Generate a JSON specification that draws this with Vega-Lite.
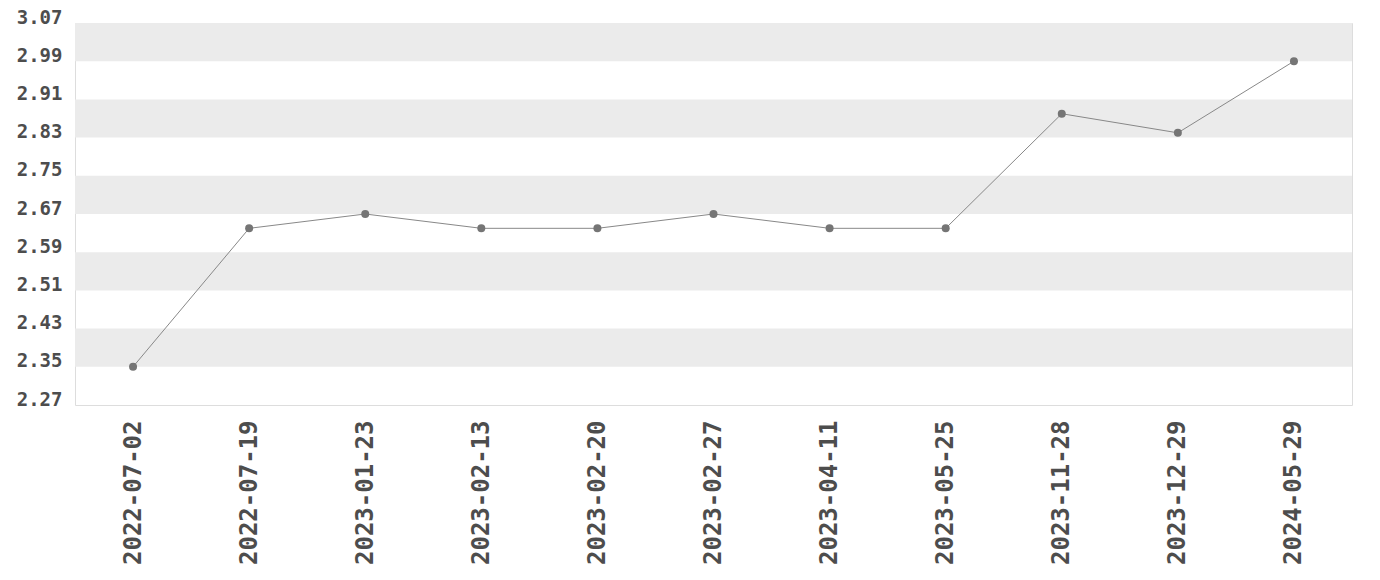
{
  "$schema": "https://vega.github.io/schema/vega-lite/v6.json",
  "width": 1277,
  "height": 382,
  "autosize": {"type": "none"},
  "padding": {"left": 75, "top": 23, "right": 28, "bottom": 175},
  "background": "white",
  "config": {
    "view": {"stroke": "#dddddd", "strokeWidth": 1},
    "axis": {"labelFont": "DejaVu Sans Mono", "labelFontWeight": "bold", "labelFontSize": 19, "labelColor": "#4d4d4d", "ticks": false, "domain": false, "grid": false, "title": null, "labelOverlap": false}
  },
  "datasets": {
    "series": [
      {"date": "2022-07-02", "value": 2.35},
      {"date": "2022-07-19", "value": 2.64},
      {"date": "2023-01-23", "value": 2.67},
      {"date": "2023-02-13", "value": 2.64},
      {"date": "2023-02-20", "value": 2.64},
      {"date": "2023-02-27", "value": 2.67},
      {"date": "2023-04-11", "value": 2.64},
      {"date": "2023-05-25", "value": 2.64},
      {"date": "2023-11-28", "value": 2.88},
      {"date": "2023-12-29", "value": 2.84},
      {"date": "2024-05-29", "value": 2.99}
    ],
    "bands": [
      {"value": 2.99, "value2": 3.07},
      {"value": 2.83, "value2": 2.91},
      {"value": 2.67, "value2": 2.75},
      {"value": 2.51, "value2": 2.59},
      {"value": 2.35, "value2": 2.43}
    ]
  },
  "encoding": {
    "y": {"field": "value", "type": "quantitative", "scale": {"domain": [2.27, 3.07], "nice": false, "zero": false},
      "axis": {"values": [2.27, 2.35, 2.43, 2.51, 2.59, 2.67, 2.75, 2.83, 2.91, 2.99, 3.07], "format": ".2f", "labelBaseline": "alphabetic", "labelPadding": 13, "labelOverlap": false, "labelFlush": false}}
  },
  "layer": [
    {
      "data": {"name": "bands"},
      "mark": {"type": "rect", "color": "#ebebeb"},
      "encoding": {
        "y2": {"field": "value2"}
      }
    },
    {
      "data": {"name": "series"},
      "encoding": {
        "x": {"field": "date", "type": "ordinal", "sort": null, "scale": {"type": "point", "padding": 0.5},
          "axis": {"labelAngle": -90, "labelPadding": 15, "labelFontSize": 24, "labelOverlap": false}}
      },
      "layer": [
        {"mark": {"type": "line", "color": "#888888", "strokeWidth": 1}},
        {"mark": {"type": "circle", "color": "#757575", "opacity": 1, "size": 64}}
      ]
    }
  ]
}
